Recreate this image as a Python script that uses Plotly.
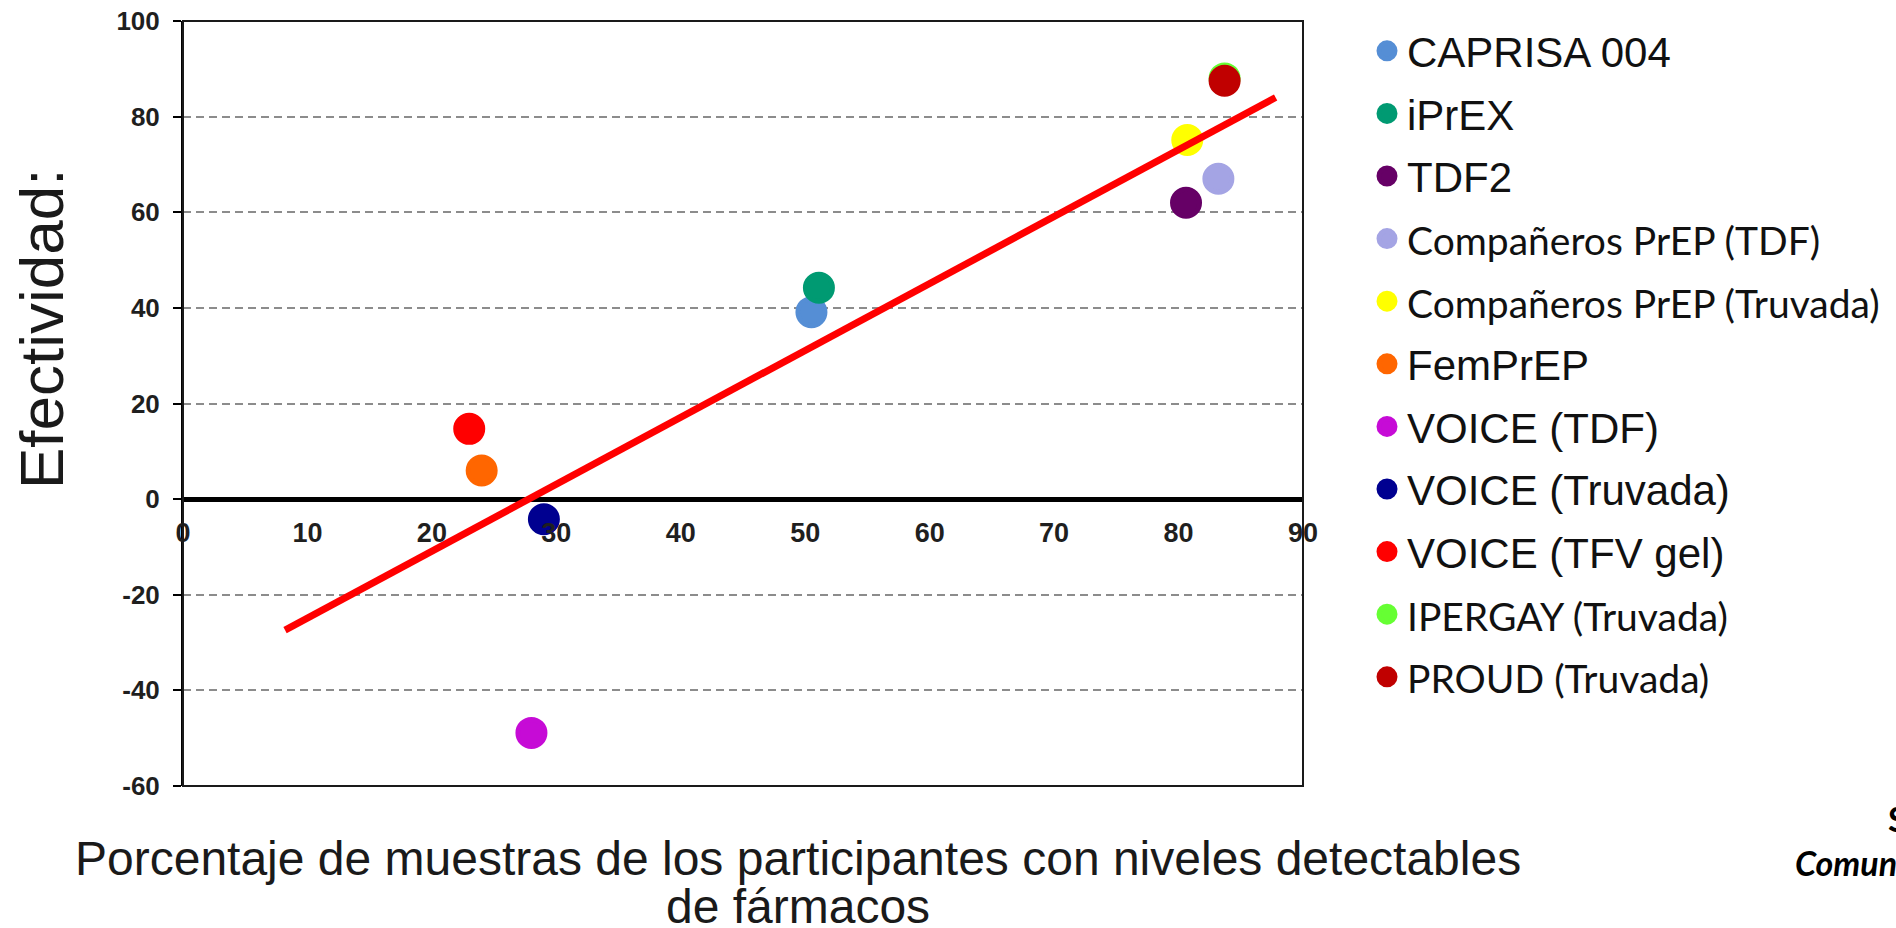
import plotly.graph_objects as go

# ---- data ----
studies = ["CAPRISA 004", "iPrEX", "TDF2", "Compañeros PrEP (TDF)", "Compañeros PrEP (Truvada)",
           "FemPrEP", "VOICE (TDF)", "VOICE (Truvada)", "VOICE (TFV gel)", "IPERGAY (Truvada)",
           "PROUD (Truvada)"]
adherence = [50.5, 51.1, 80.6, 83.2, 80.7, 24.0, 28.0, 29.0, 23.0, 83.7, 83.7]
efficacy = [39.1, 44.2, 62.0, 67.0, 75.1, 6.0, -48.9, -4.2, 14.7, 88.0, 87.5]
colors = ["#558ED5", "#009A72", "#660066", "#A4A4E4", "#FFFF00",
          "#FF6600", "#C60BD6", "#000090", "#FF0000", "#66FF33", "#C00000"]
calibri_style = [False, False, False, True, True, False, False, False, False, True, True]

fit_x = [8.2, 87.8]
fit_y = [-27.4, 84.0]

x_ticks = [0, 10, 20, 30, 40, 50, 60, 70, 80, 90]
y_ticks = [-60, -40, -20, 0, 20, 40, 60, 80, 100]

W, H = 1896, 928
L, R, T, B = 183, 593, 21, 142

fig = go.Figure()

for name, xv, yv, col, cal in zip(studies, adherence, efficacy, colors, calibri_style):
    label = name
    if cal:
        label = f'<span style="font-family:Lato;font-size:39px">{name}</span>'
    fig.add_trace(go.Scatter(
        x=[xv], y=[yv], mode="markers", name=label, legendgroup=name,
        marker=dict(size=27, color=col, line=dict(width=5, color=col)),
        hoverinfo="name+x+y",
    ))

fig.add_trace(go.Scatter(
    x=fit_x, y=fit_y, mode="lines", showlegend=False,
    line=dict(color="#FF0000", width=7), hoverinfo="skip",
))

# position of y=0 in the plot area (fraction)
zero_frac = (0 - y_ticks[0]) / (y_ticks[-1] - y_ticks[0])

fig.update_layout(
    width=W, height=H,
    margin=dict(l=L, r=R, t=T, b=B, autoexpand=False),
    paper_bgcolor="white", plot_bgcolor="white",
    font=dict(family="Liberation Sans, Arial", color="#1F1F1F"),
    xaxis=dict(
        range=[0, 90], tickvals=x_ticks, ticktext=[str(v) for v in x_ticks],
        anchor="free", position=zero_frac, automargin=False,
        showline=False, showgrid=False, zeroline=False,
        ticks="outside", ticklen=9, tickcolor="rgba(0,0,0,0)",
        tickfont=dict(family="Liberation Sans, Arial", size=27, color="#1F1F1F", weight="bold"),
    ),
    yaxis=dict(
        range=[-60, 100], tickvals=y_ticks, ticktext=[str(v) for v in y_ticks],
        automargin=False,
        showline=True, linecolor="black", linewidth=2,
        ticks="outside", ticklen=8, tickwidth=2, tickcolor="black",
        showgrid=True, gridcolor="#8C8C8C", gridwidth=2, griddash="8px,5px",
        zeroline=True, zerolinecolor="black", zerolinewidth=5,
        tickfont=dict(family="Liberation Sans, Arial", size=26, color="#1F1F1F", weight="bold"),
        ticklabelstandoff=8,
    ),
    legend=dict(
        xref="container", yref="container",
        x=1367 / W, y=1 - 17 / H, xanchor="left", yanchor="top",
        font=dict(family="Liberation Sans, Arial", size=42, color="#111111"),
        tracegroupgap=5, bgcolor="rgba(0,0,0,0)", borderwidth=0,
        maxheight=1,
        itemclick=False, itemdoubleclick=False,
    ),
    showlegend=True,
)

# plot frame
fig.add_shape(type="rect", xref="x domain", yref="y domain", x0=0, x1=1, y0=0, y1=1,
              line=dict(color="#1A1A1A", width=2), layer="above")

# axis titles
fig.add_annotation(text="Efectividad:", textangle=-90, xref="paper", yref="paper",
                   x=(41 - L) / (W - L - R), y=(H - B - 329) / (H - T - B),
                   xanchor="center", yanchor="middle", showarrow=False,
                   font=dict(family="Liberation Sans, Arial", size=62, color="#1A1A1A"))
fig.add_annotation(text="Porcentaje de muestras de los participantes con niveles detectables",
                   xref="paper", yref="paper",
                   x=(798 - L) / (W - L - R), y=(H - B - 858) / (H - T - B),
                   xanchor="center", yanchor="middle", showarrow=False,
                   font=dict(family="Liberation Sans, Arial", size=48, color="#1A1A1A"))
fig.add_annotation(text="de fármacos",
                   xref="paper", yref="paper",
                   x=(798 - L) / (W - L - R), y=(H - B - 907) / (H - T - B),
                   xanchor="center", yanchor="middle", showarrow=False,
                   font=dict(family="Liberation Sans, Arial", size=48, color="#1A1A1A"))

# source note (cut at the right edge, as in the original)
fig.add_annotation(text="<b>S</b>", xref="paper", yref="paper",
                   x=(1886 - L) / (W - L - R), y=(H - B - 818) / (H - T - B),
                   xanchor="left", yanchor="middle", showarrow=False,
                   font=dict(family="Lato", size=34, color="black"))
fig.add_annotation(text="<b><i>Comunicación</i></b>", xref="paper", yref="paper",
                   x=(1793 - L) / (W - L - R), y=(H - B - 862) / (H - T - B),
                   xanchor="left", yanchor="middle", showarrow=False,
                   font=dict(family="Lato", size=34, color="black"))

fig.write_html("out.html", config={"displayModeBar": False},
               post_script="document.body.style.margin='0px';document.body.style.overflow='hidden';")
